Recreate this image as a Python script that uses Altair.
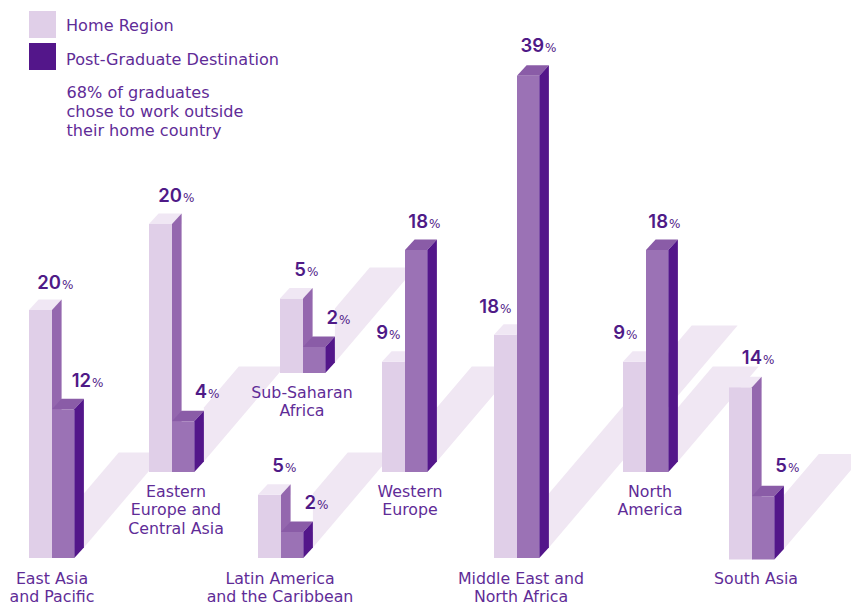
import altair as alt
import pandas as pd

# ---- values ----
regions = ["East Asia and Pacific", "Eastern Europe and Central Asia", "Sub-Saharan Africa",
           "Latin America and the Caribbean", "Western Europe", "Middle East and North Africa",
           "North America", "South Asia"]
home_values = [20.0, 20.0, 6.0, 5.1, 8.9, 18.0, 8.9, 13.9]
dest_values = [12.0, 4.1, 2.1, 2.1, 17.9, 38.9, 17.9, 5.1]
home_labels = ["20", "20", "5", "5", "9", "18", "9", "14"]
dest_labels = ["12", "4", "2", "2", "18", "39", "18", "5"]
region_lines = [["East Asia", "and Pacific"], ["Eastern", "Europe and", "Central Asia"], ["Sub-Saharan", "Africa"],
                ["Latin America", "and the Caribbean"], ["Western", "Europe"], ["Middle East and", "North Africa"],
                ["North", "America"], ["South Asia"]]
legend_names = ["Home Region", "Post-Graduate Destination"]
note_lines = ["68% of graduates", "chose to work outside", "their home country"]

# ---- layout, in page pixels ----
W, H = 851, 603
UNIT = 12.4            # pixels per percentage point
left_x = [29, 149, 280, 258, 382, 494, 623, 729]
base_y = [558, 472, 373, 558, 472, 558, 472, 559.5]
shadow_reach = [95, 95, 95, 95, 95, 222, 95, 95]
home_label_pos = [(61, 289), (182, 202), (306, 276), (284, 472), (388, 339), (499, 313), (625, 339), (762, 364)]
dest_label_pos = [(91, 387), (207, 398), (338, 324), (316, 509), (428, 228), (544, 52), (668, 228), (787, 472)]
label_pos = [(52, 584), (176, 497), (302, 398), (280, 584), (410, 497), (521, 584), (650, 497), (756, 584)]
W1, W2, DX, DY = 23, 22.3, 9.6, 10.5
FONT = "DejaVu Sans"
NUM_FONT = "Inter"
C_TEXT, C_NUM = "#5F2C97", "#4F1A87"
C_LIGHT, C_LIGHT_TOP, C_LIGHT_SIDE = "#E0CFE8", "#F0E7F4", "#9467AE"
C_DARK, C_DARK_TOP, C_DARK_SIDE = "#9B72B5", "#8A5CA7", "#53168A"
C_SHADOW = "#F0E7F3"


def u(py):
    """page pixel row -> percentage-point units of the y scale"""
    return (H - py) / UNIT


xs = alt.Scale(domain=[8, W], nice=False, zero=False)
ys = alt.Scale(domain=[0, (H - 8) / UNIT], nice=False, zero=False)
X = alt.X("x:Q", scale=xs, axis=None)
Y = alt.Y("y:Q", scale=ys, axis=None)
X2 = alt.X2("x2:Q")
Y2 = alt.Y2("y2:Q")

rows = {k: [] for k in ["shadow", "ltop", "lside", "dtop", "dside"]}
lfront, dfront = [], []
for i, r in enumerate(regions):
    bu = u(base_y[i])
    xl = left_x[i]
    xm = xl + W1
    xr = xm + W2
    du = DY / UNIT
    ht = bu + home_values[i]
    dt = bu + dest_values[i]
    lfront.append(dict(x=xl, x2=xm, y=bu, y2=ht))
    dfront.append(dict(x=xm, x2=xr, y=bu, y2=dt))
    rows["ltop"] += [dict(id=r, y=ht, x=xl, x2=xm), dict(id=r, y=ht + du, x=xl + DX, x2=xm + DX)]
    rows["dtop"] += [dict(id=r, y=dt, x=xm, x2=xr), dict(id=r, y=dt + du, x=xm + DX, x2=xr + DX)]
    rows["lside"] += [dict(id=r, x=xm, y=bu, y2=ht), dict(id=r, x=xm + DX, y=bu + du, y2=ht + du)]
    rows["dside"] += [dict(id=r, x=xr, y=bu, y2=dt), dict(id=r, x=xr + DX, y=bu + du, y2=dt + du)]
    # floor shadow running to the upper right
    c = xr + DX
    yb = base_y[i] - DY
    reach = shadow_reach[i]
    k = 0.85
    rows["shadow"] += [
        dict(id=r, y=u(yb), x=c, x2=c),
        dict(id=r, y=u(yb - 54), x=c, x2=c + 54 * k),
        dict(id=r, y=u(yb - reach), x=c + (reach - 54) * k, x2=c + reach * k),
    ]


def df(v):
    return alt.Data(values=v)


def hface(key, color, clip=False):
    return alt.Chart(df(rows[key])).mark_area(orient="horizontal", fill=color, clip=clip).encode(
        x=X, x2=X2, y=Y, detail="id:N")


def vface(key, color):
    return alt.Chart(df(rows[key])).mark_area(orient="vertical", fill=color).encode(
        x=X, y=Y, y2=Y2, detail="id:N")


def front(data, color):
    return alt.Chart(df(data)).mark_rect(color=color).encode(x=X, x2=X2, y=Y, y2=Y2)


# texts
num_rows, pct_rows, cat_rows = [], [], []
for i in range(len(regions)):
    for txt, (px, py) in ((home_labels[i], home_label_pos[i]), (dest_labels[i], dest_label_pos[i])):
        num_rows.append(dict(x=px, y=u(py), t=txt))
        pct_rows.append(dict(x=px + 1, y=u(py), t="%"))
    for j, line in enumerate(region_lines[i]):
        cat_rows.append(dict(x=label_pos[i][0], y=u(label_pos[i][1] + j * 18.3), t=line))

legend_rects = [dict(x=29, x2=56, y=u(38), y2=u(11), c=C_LIGHT), dict(x=29, x2=56, y=u(70), y2=u(43), c="#53168A")]
legend_text = [dict(x=66, y=u(31), t=legend_names[0]), dict(x=66, y=u(65), t=legend_names[1])]
legend_text += [dict(x=66.5, y=u(98 + j * 19), t=s) for j, s in enumerate(note_lines)]


def text(rows_, align, size, color, weight=400, font=FONT):
    return alt.Chart(df(rows_)).mark_text(align=align, baseline="alphabetic", font=font, fontSize=size,
                                          fontWeight=weight, color=color).encode(x=X, y=Y, text="t:N")


chart = alt.layer(
    hface("shadow", C_SHADOW, clip=True),
    front(lfront, C_LIGHT),
    hface("ltop", C_LIGHT_TOP),
    vface("lside", C_LIGHT_SIDE),
    hface("dtop", C_DARK_TOP),
    front(dfront, C_DARK),
    vface("dside", C_DARK_SIDE),
    alt.Chart(df(legend_rects)).mark_rect().encode(x=X, x2=X2, y=Y, y2=Y2, color=alt.Color("c:N", scale=None)),
    text(legend_text, "left", 16.1, C_TEXT),
    text(cat_rows, "center", 15.8, C_TEXT),
    text(num_rows, "right", 18.5, C_NUM, 600, NUM_FONT),
    text(pct_rows, "left", 12, C_NUM),
).properties(width=W - 8, height=H - 8, padding=0, background="white",
             autosize=alt.AutoSizeParams(type="none")
).configure_view(strokeWidth=0)

chart.save("out.html", embed_options={"renderer": "svg", "actions": False})
